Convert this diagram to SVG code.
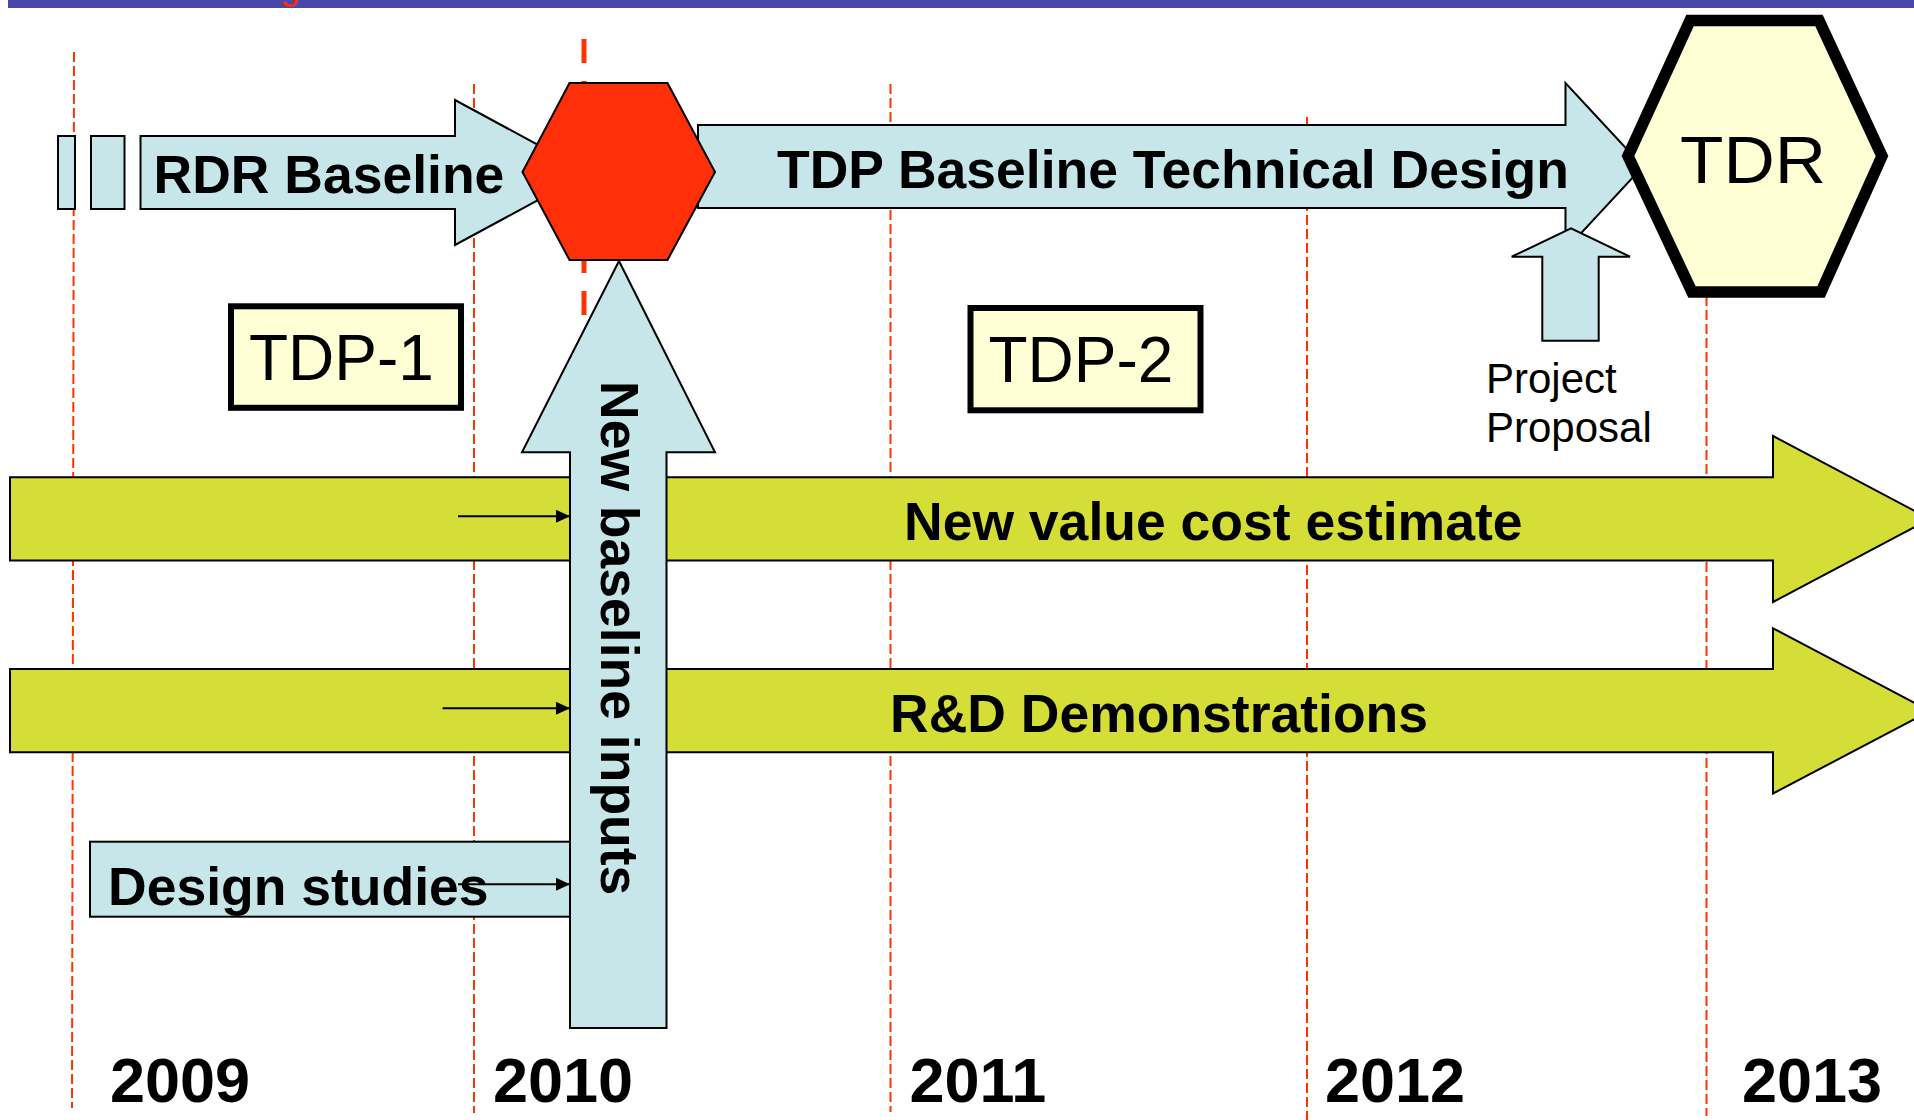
<svg xmlns="http://www.w3.org/2000/svg" width="1914" height="1120" viewBox="0 0 1914 1120">
<style>
.blue{fill:#c6e6e9;stroke:#000;stroke-width:2;stroke-linejoin:miter}
.green{fill:#d4de37;stroke:#000;stroke-width:2}
.yel{fill:#ffffd6;stroke:#000}
.dash{stroke:#ff3300;stroke-width:2;stroke-dasharray:10 4;fill:none}
.b{font-family:"Liberation Sans",Arial,sans-serif;font-weight:bold;fill:#000}
.r{font-family:"Liberation Sans",Arial,sans-serif;fill:#000}
.conn{stroke:#000;stroke-width:2;fill:none}
</style>
<defs>
<marker id="ah" viewBox="0 0 14 13" refX="14" refY="6.5" markerWidth="14" markerHeight="13" markerUnits="userSpaceOnUse" orient="auto">
<polygon points="0,0 14,6.5 0,13" fill="#000"/>
</marker>
</defs>
<rect width="1914" height="1120" fill="#fff"/>
<rect x="8" y="0" width="1906" height="8" fill="#4848a8"/>
<text x="280" y="-1" class="r" style="fill:#ff2a00" font-size="36">g</text>

<g id="gridlines">
<line class="dash" x1="74" y1="52" x2="72" y2="1108"/>
<line class="dash" x1="474" y1="84" x2="474" y2="1113"/>
<line class="dash" x1="890.5" y1="84" x2="890.5" y2="1112"/>
<line class="dash" x1="1307" y1="117" x2="1307" y2="1120"/>
<line class="dash" x1="1706.5" y1="296" x2="1706.5" y2="1116"/>
<line x1="584" y1="39" x2="584" y2="345" stroke="#ff3300" stroke-width="5" stroke-dasharray="24 18"/>
</g>

<g id="rdr-stubs">
<rect class="blue" x="58" y="136" width="17" height="73"/>
<rect class="blue" x="91" y="136" width="33.5" height="73"/>
</g>
<g id="rdr-baseline">
<polygon class="blue" points="140.5,136 455,136 455,100 589,172.5 455,245 455,209 140.5,209"/>
<text class="b" x="153.5" y="193" font-size="53.5">RDR Baseline</text>
</g>
<g id="tdp-baseline">
<polygon class="blue" points="698,125 1565.5,125 1565.5,83 1643,166.5 1565.5,250 1565.5,208 698,208"/>
<text class="b" x="777" y="188" font-size="53.5">TDP Baseline Technical Design</text>
</g>
<g id="milestone-2010">
<polygon points="522.5,172 569.5,83 667.5,83 715,172 667.5,260 569.5,260" fill="#ff2f0a" stroke="#000" stroke-width="2"/>
</g>
<g id="tdr">
<polygon points="1628,156 1690,20.5 1819,20.5 1882,156 1821,292 1692,292" fill="#ffffd6" stroke="#000" stroke-width="11.5"/>
<text class="r" x="1680" y="182.5" font-size="67" textLength="146" lengthAdjust="spacingAndGlyphs">TDR</text>
</g>
<g id="project-proposal">
<polygon class="blue" points="1542.3,340.7 1542.3,256.7 1511.7,256.7 1571,228.3 1630,256.7 1598.7,256.7 1598.7,340.7"/>
<text class="r" x="1486" y="393" font-size="42">Project</text>
<text class="r" x="1486" y="442" font-size="42">Proposal</text>
</g>
<g id="tdp-1">
<rect class="yel" x="231" y="306.3" width="230" height="101.5" stroke-width="6"/>
<text class="r" x="249" y="380" font-size="64">TDP-1</text>
</g>
<g id="tdp-2">
<rect class="yel" x="970.5" y="308" width="230" height="102.3" stroke-width="6"/>
<text class="r" x="988.5" y="381.5" font-size="64">TDP-2</text>
</g>
<g id="cost-estimate">
<polygon class="green" points="10,477.3 1773,477.3 1773,436 1930,519 1773,602 1773,560.5 10,560.5"/>
<text class="b" x="904" y="540" font-size="53.5">New value cost estimate</text>
</g>
<g id="rd-demonstrations">
<polygon class="green" points="10,669 1773,669 1773,628.3 1930,711 1773,793.5 1773,752.3 10,752.3"/>
<text class="b" x="890" y="731.7" font-size="53.5">R&amp;D Demonstrations</text>
</g>
<g id="design-studies">
<rect class="blue" x="90" y="841.7" width="480.7" height="75"/>
<text class="b" x="108" y="905" font-size="53.5">Design studies</text>
</g>
<g id="new-baseline-inputs">
<polygon class="blue" points="570,1028 570,452.3 522,452.3 619,261 715,452.3 666.5,452.3 666.5,1028"/>
<text class="b" font-size="53.5" transform="translate(601,381) rotate(90)">New baseline inputs</text>
</g>
<g id="connectors">
<line class="conn" x1="458" y1="516.3" x2="570" y2="516.3" marker-end="url(#ah)"/>
<line class="conn" x1="442.6" y1="708.3" x2="570" y2="708.3" marker-end="url(#ah)"/>
<line class="conn" x1="458" y1="884.3" x2="570" y2="884.3" marker-end="url(#ah)"/>
</g>
<g id="years">
<text class="b" x="110" y="1102" font-size="63">2009</text>
<text class="b" x="493" y="1102" font-size="63">2010</text>
<text class="b" x="909.5" y="1102" font-size="63">2011</text>
<text class="b" x="1325" y="1102" font-size="63">2012</text>
<text class="b" x="1742" y="1102" font-size="63">2013</text>
</g>
</svg>
